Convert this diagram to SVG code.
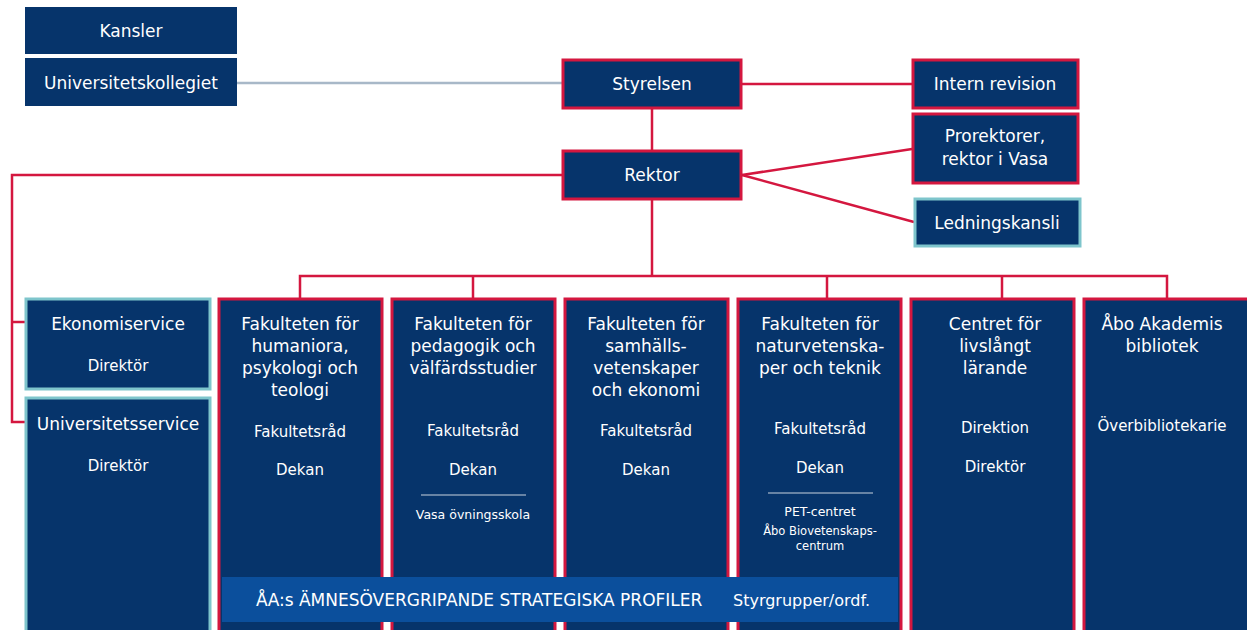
<svg xmlns="http://www.w3.org/2000/svg" width="1247" height="630" viewBox="0 0 1247 630">
<style>
.n{fill:#06346b}
.r{stroke:#d4173f;stroke-width:3}
.t{stroke:#7ec5cc;stroke-width:3}
.c{fill:none;stroke:#d4173f;stroke-width:2.5}
text{font-family:"DejaVu Sans","Liberation Sans",sans-serif;fill:#ffffff;text-anchor:middle}
.h{font-size:17px}
.s{font-size:15px}
.x{font-size:12.5px}
.b{font-size:17px;text-anchor:start}
.g{font-size:16px;text-anchor:start}
</style>
<rect width="1247" height="630" fill="#ffffff"/>
<g id="connectors">
<line x1="237" y1="83" x2="562" y2="83" stroke="#a8b8c8" stroke-width="2.5"/>
<line class="c" x1="742" y1="84" x2="912" y2="84"/>
<line class="c" x1="652" y1="108" x2="652" y2="150"/>
<line class="c" x1="742" y1="175" x2="912" y2="149"/>
<line class="c" x1="742" y1="175" x2="914" y2="222"/>
<polyline class="c" points="562,175 12,175 12,422 25,422"/>
<line class="c" x1="12" y1="322" x2="25" y2="322"/>
<line class="c" x1="652" y1="199" x2="652" y2="276"/>
<polyline class="c" points="300,298 300,276 1167,276 1167,298"/>
<line class="c" x1="473" y1="276" x2="473" y2="298"/>
<line class="c" x1="827" y1="276" x2="827" y2="298"/>
<line class="c" x1="1002" y1="276" x2="1002" y2="298"/>
</g>
<g id="kansler"><rect class="n" x="25" y="7" width="212" height="47"/><text class="h" x="131" y="37">Kansler</text></g>
<g id="universitetskollegiet"><rect class="n" x="25" y="58" width="212" height="48"/><text class="h" x="131" y="89">Universitetskollegiet</text></g>
<g id="styrelsen"><rect class="n r" x="563" y="60" width="178" height="48"/><text class="h" x="652" y="90">Styrelsen</text></g>
<g id="intern-revision"><rect class="n r" x="913" y="60" width="165" height="48"/><text class="h" x="995" y="90">Intern revision</text></g>
<g id="rektor"><rect class="n r" x="563" y="151" width="178" height="48"/><text class="h" x="652" y="181">Rektor</text></g>
<g id="prorektorer"><rect class="n r" x="913" y="114" width="165" height="69"/><text class="h" x="995" y="142">Prorektorer,</text><text class="h" x="995" y="165">rektor i Vasa</text></g>
<g id="ledningskansli"><rect class="n t" x="915" y="199" width="165" height="47"/><text class="h" x="997" y="229">Ledningskansli</text></g>
<g id="ekonomiservice"><rect class="n t" x="26" y="299" width="184" height="90"/><text class="h" x="118" y="330">Ekonomiservice</text><text class="s" x="118" y="371">Direktör</text></g>
<g id="universitetsservice"><rect class="n t" x="26" y="398" width="184" height="240"/><text class="h" x="118" y="430">Universitetsservice</text><text class="s" x="118" y="471">Direktör</text></g>
<g id="fak-humaniora"><rect class="n r" x="219" y="299" width="163" height="340"/>
<text class="h" x="300" y="330">Fakulteten för</text><text class="h" x="300" y="352">humaniora,</text><text class="h" x="300" y="374">psykologi och</text><text class="h" x="300" y="396">teologi</text>
<text class="s" x="300" y="437">Fakultetsråd</text><text class="s" x="300" y="475">Dekan</text></g>
<g id="fak-pedagogik"><rect class="n r" x="392" y="299" width="163" height="340"/>
<text class="h" x="473" y="330">Fakulteten för</text><text class="h" x="473" y="352">pedagogik och</text><text class="h" x="473" y="374">välfärdsstudier</text>
<text class="s" x="473" y="436">Fakultetsråd</text><text class="s" x="473" y="475">Dekan</text>
<line x1="421" y1="495" x2="526" y2="495" stroke="#c8d2de" stroke-width="1.2"/>
<text class="x" x="473" y="519">Vasa övningsskola</text></g>
<g id="fak-samhalls"><rect class="n r" x="565" y="299" width="163" height="340"/>
<text class="h" x="646" y="330">Fakulteten för</text><text class="h" x="646" y="352">samhälls-</text><text class="h" x="646" y="374">vetenskaper</text><text class="h" x="646" y="396">och ekonomi</text>
<text class="s" x="646" y="436">Fakultetsråd</text><text class="s" x="646" y="475">Dekan</text></g>
<g id="fak-naturvetenskaper"><rect class="n r" x="738" y="299" width="163" height="340"/>
<text class="h" x="820" y="330">Fakulteten för</text><text class="h" x="820" y="352">naturvetenska-</text><text class="h" x="820" y="374">per och teknik</text>
<text class="s" x="820" y="434">Fakultetsråd</text><text class="s" x="820" y="473">Dekan</text>
<line x1="768" y1="493" x2="873" y2="493" stroke="#c8d2de" stroke-width="1.2"/>
<text class="x" x="820" y="516">PET-centret</text><text x="820" y="535" font-size="11.5">Åbo Biovetenskaps-</text><text x="820" y="550" font-size="11.5">centrum</text></g>
<g id="centret-livslangt"><rect class="n r" x="911" y="299" width="163" height="340"/>
<text class="h" x="995" y="330">Centret för</text><text class="h" x="995" y="352">livslångt</text><text class="h" x="995" y="374">lärande</text>
<text class="s" x="995" y="433">Direktion</text><text class="s" x="995" y="472">Direktör</text></g>
<g id="abo-bibliotek"><rect class="n r" x="1084" y="299" width="165" height="340"/>
<text class="h" x="1162" y="330">Åbo Akademis</text><text class="h" x="1162" y="352">bibliotek</text>
<text class="s" x="1162" y="431">Överbibliotekarie</text></g>
<g id="strategiska-profiler"><rect x="222" y="577" width="676" height="45" fill="#0b4f9c"/>
<text class="b" x="256" y="606">ÅA:s ÄMNESÖVERGRIPANDE STRATEGISKA PROFILER</text>
<text class="g" x="733" y="606">Styrgrupper/ordf.</text></g>
</svg>
